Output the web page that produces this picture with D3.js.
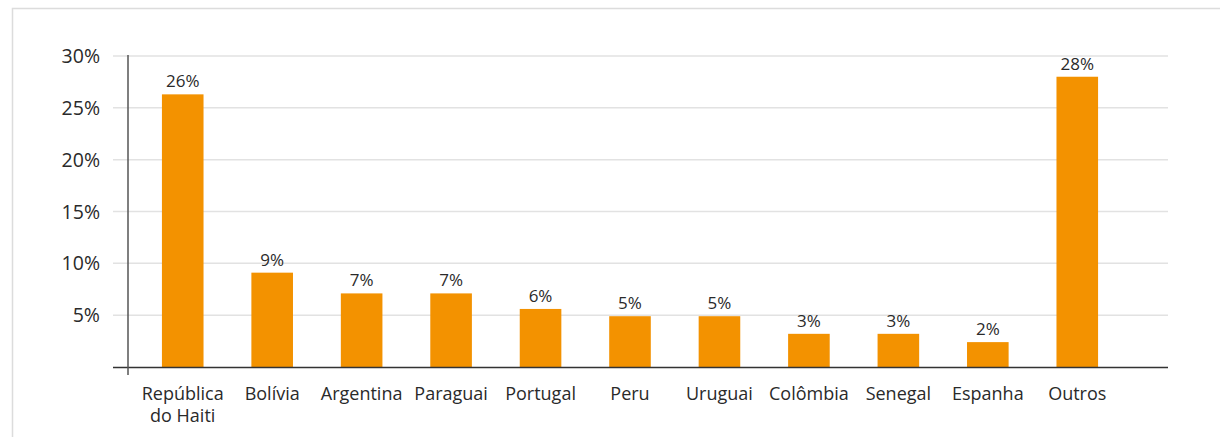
<!DOCTYPE html>
<html>
<head>
<meta charset="utf-8">
<script src="https://cdn.jsdelivr.net/npm/d3@7"></script>
<style>
  body { margin: 0; background: #fff; }
  svg { display: block; font-family: "Open Sans", "Noto Sans", sans-serif; }
</style>
</head>
<body>
<svg id="chart"></svg>
<script>
// data
var paises = ["República do Haiti", "Bolívia", "Argentina", "Paraguai", "Portugal", "Peru",
              "Uruguai", "Colômbia", "Senegal", "Espanha", "Outros"]
var valores = [26.3, 9.1, 7.1, 7.1, 5.6, 4.9, 4.9, 3.2, 3.2, 2.4, 28.0]
var rotulos = ["26%", "9%", "7%", "7%", "6%", "5%", "5%", "3%", "3%", "2%", "28%"]
var ticksY = [5, 10, 15, 20, 25, 30]

var screen = {width: 1220, height: 437}

var svg = d3.select("#chart")
    .attr("width", screen.width)
    .attr("height", screen.height)

// panel border
svg.append("path")
    .attr("d", "M12.5,437 V8.5 H1220")
    .attr("fill", "none")
    .attr("stroke", "#dcdcdc")
    .attr("stroke-width", 1.5)

var xScale = d3.scaleBand()
    .domain(paises)
    .range([138, 1122])
    .paddingInner(0.535)
    .paddingOuter(0.2675)

var yScale = d3.scaleLinear()
    .domain([0, 30])
    .range([367, 56])

// gridlines
svg.append("g")
    .selectAll("line")
    .data(ticksY)
    .enter()
    .append("line")
    .attr("x1", 113)
    .attr("x2", 1168)
    .attr("y1", function(d){ return yScale(d) })
    .attr("y2", function(d){ return yScale(d) })
    .attr("stroke", "#e2e2e2")
    .attr("stroke-width", 1.5)

// y tick labels
svg.append("g")
    .selectAll("text")
    .data(ticksY)
    .enter()
    .append("text")
    .attr("x", 100)
    .attr("y", function(d){ return yScale(d) + 7 })
    .attr("text-anchor", "end")
    .attr("font-size", 19.5)
    .attr("fill", "#2a2a2a")
    .text(function(d){ return d + "%" })

// bars
svg.append("g")
    .selectAll("rect")
    .data(valores)
    .enter()
    .append("rect")
    .attr("x", function(d, i){ return xScale(paises[i]) })
    .attr("y", function(d){ return yScale(d) })
    .attr("width", xScale.bandwidth())
    .attr("height", function(d){ return yScale(0) - yScale(d) })
    .attr("fill", "#f39200")

// value labels
svg.append("g")
    .selectAll("text")
    .data(valores)
    .enter()
    .append("text")
    .attr("x", function(d, i){ return xScale(paises[i]) + xScale.bandwidth() / 2 })
    .attr("y", function(d){ return yScale(d) - 7 })
    .attr("text-anchor", "middle")
    .attr("font-size", 17)
    .attr("fill", "#2a2a2a")
    .text(function(d, i){ return rotulos[i] })

// axes lines
svg.append("line")
    .attr("x1", 113).attr("x2", 1168)
    .attr("y1", 367.5).attr("y2", 367.5)
    .attr("stroke", "#333").attr("stroke-width", 1.5)

svg.append("line")
    .attr("x1", 128).attr("x2", 128)
    .attr("y1", 55).attr("y2", 375)
    .attr("stroke", "#555").attr("stroke-width", 1.5)

// category labels (Haiti splits on two lines)
var cats = svg.append("g")
    .selectAll("text")
    .data(paises)
    .enter()
    .append("text")
    .attr("x", function(d){ return xScale(d) + xScale.bandwidth() / 2 })
    .attr("y", 400)
    .attr("text-anchor", "middle")
    .attr("font-size", 18)
    .attr("fill", "#2a2a2a")

cats.each(function(d){
    var partes = d == "República do Haiti" ? ["República", "do Haiti"] : [d]
    var t = d3.select(this)
    partes.forEach(function(p, k){
        t.append("tspan")
            .attr("x", t.attr("x"))
            .attr("dy", k == 0 ? 0 : 22)
            .text(p)
    })
})
</script>
</body>
</html>
